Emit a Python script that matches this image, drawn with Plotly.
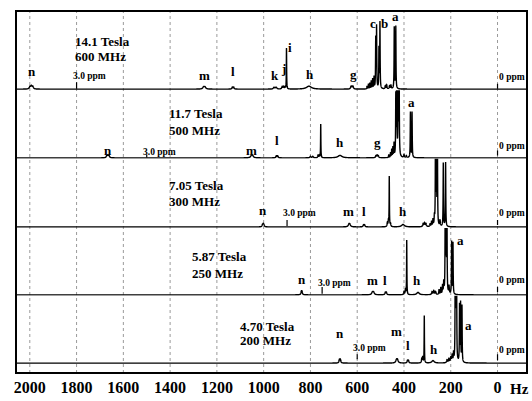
import numpy as np
import plotly.graph_objects as go

# ---------------- data ----------------
MHZ = [600, 500, 300, 250, 200]
TESLA_TEXT = ["14.1 Tesla", "11.7 Tesla", "7.05 Tesla", "5.87 Tesla", "4.70 Tesla"]
MHZ_TEXT = ["600 MHz", "500 MHz", "300 MHz", "250 MHz", "200 MHz"]

# peak tables (ppm, height, line width in Hz)
PK600_PPM = [3.332, 3.322, 3.312, 2.095, 2.085, 1.890, 1.880, 1.595, 1.585, 1.575, 1.535, 1.525, 1.515, 1.504,
             1.344, 1.045, 1.037, 1.029, 0.930, 0.920, 0.910, 0.900, 0.890, 0.880, 0.868, 0.862, 0.845, 0.838,
             0.800, 0.790, 0.770, 0.760, 0.736, 0.725]
PK600_H = [2.5, 3, 2.5, 2, 2, 2, 2, 1.5, 1.5, 1.5, 2.5, 2.5, 2, 42,
           3, 2.5, 2.5, 2.5, 3, 5, 6, 8, 10, 12, 50, 62, 40, 67,
           3, 4, 3, 4, 63, 63]
PK600_W = [6, 6, 6, 8, 8, 4, 4, 5, 5, 5, 4, 4, 3, 1.5,
           25, 4, 4, 4, 2, 2, 2, 2, 2, 2, 1.8, 1.8, 1.8, 1.8,
           3, 3, 3, 3, 1.8, 1.8]

PK500_PPM = [3.342, 3.332, 3.322, 2.105, 2.095, 1.892, 1.880, 1.600, 1.580, 1.535, 1.525, 1.512,
             1.347, 1.040, 1.030, 1.020, 0.930, 0.915, 0.905, 0.895, 0.885, 0.870, 0.862, 0.850, 0.842,
             0.800, 0.780, 0.745, 0.731]
PK500_H = [2, 2.5, 2, 2, 2, 2, 2, 1.5, 1.5, 2.5, 2.5, 34,
           2.5, 2, 2.5, 2, 3, 5, 8, 10, 14, 60, 120, 80, 130,
           3, 2, 46, 46]
PK500_W = [5, 5, 5, 8, 8, 4, 4, 5, 5, 3, 3, 1.5,
           20, 4, 4, 4, 2, 2, 2, 2, 2, 1.8, 1.8, 1.8, 1.8,
           3, 3, 1.8, 1.8]

PK300_PPM = [3.350, 3.340, 3.330, 2.117, 2.105, 1.910, 1.895, 1.570, 1.555, 1.543, 1.525,
             1.347, 1.060, 1.040, 1.020, 0.960, 0.940, 0.920, 0.900, 0.885, 0.872, 0.857,
             0.820, 0.773, 0.740]
PK300_H = [2, 2.5, 2, 2.5, 2, 2, 2, 4, 6, 51, 3,
           2.5, 3, 4, 3, 3, 5, 7, 9, 80, 110, 95,
           6, 65, 65]
PK300_W = [4, 4, 4, 7, 7, 4, 4, 3, 3, 1.5, 3,
           14, 4, 4, 4, 2.5, 2.5, 2.5, 2.5, 1.8, 1.8, 1.8,
           3, 1.8, 1.8]

PK250_PPM = [3.355, 3.345, 2.140, 2.120, 1.920, 1.900, 1.600, 1.575, 1.553,
             1.360, 1.120, 1.090, 1.060, 1.000, 0.970, 0.940, 0.920, 0.895, 0.880, 0.865,
             0.830, 0.785, 0.762]
PK250_H = [3, 3, 2.5, 2.5, 2.5, 2.5, 3, 5, 55,
           2.5, 3, 4, 3, 5, 7, 9, 12, 90, 110, 80,
           8, 53, 52]
PK250_W = [4, 4, 7, 7, 4, 4, 3, 3, 1.5,
           12, 4, 4, 4, 2.5, 2.5, 2.5, 2.5, 1.8, 1.8, 1.8,
           3, 1.8, 1.8]

PK200_PPM = [3.380, 3.360, 2.160, 2.140, 1.925, 1.905, 1.620, 1.600, 1.566,
             1.380, 1.080, 1.040, 1.000, 0.970, 0.940, 0.905, 0.890, 0.875,
             0.812, 0.790, 0.760]
PK200_H = [3.5, 3.5, 3, 3, 2.5, 2.5, 4, 6, 48,
           2.5, 3, 4, 5, 7, 9, 90, 110, 85,
           58, 59, 57]
PK200_W = [4, 4, 7, 7, 4, 4, 3, 3, 1.5,
           12, 4, 4, 4, 4, 2.5, 1.8, 1.8, 1.8,
           1.8, 1.8, 1.8]

PEAK_TABLES = [(PK600_PPM, PK600_H, PK600_W), (PK500_PPM, PK500_H, PK500_W),
               (PK300_PPM, PK300_H, PK300_W), (PK250_PPM, PK250_H, PK250_W),
               (PK200_PPM, PK200_H, PK200_W)]

# peak letter labels: letter, position (Hz), height above baseline
LBL600 = [("n", 1991, 18), ("m", 1255, 14), ("l", 1131, 18), ("k", 952, 14), ("j", 917, 21), ("i", 888, 42),
          ("h", 802, 15), ("g", 618, 15), ("c", 532, 66), ("b", 485, 66), ("a", 438, 73)]
LBL500 = [("n", 1666, 7.5), ("m", 1050, 7.5), ("l", 943, 18), ("h", 674, 16), ("g", 515, 16), ("a", 366, 56)]
LBL300 = [("n", 1003, 17), ("m", 639, 16), ("l", 571, 16), ("h", 404, 16)]
LBL250 = [("n", 837, 16), ("m", 534, 15), ("l", 481, 15), ("h", 346, 15), ("a", 160, 55)]
LBL200 = [("n", 674, 30), ("m", 431, 32), ("l", 382, 18), ("h", 271, 14), ("a", 126, 38)]
LABELS = [LBL600, LBL500, LBL300, LBL250, LBL200]

# field / frequency caption: left position (Hz), heights of the two lines
CAPTION_X = [1816, 1414, 1414, 1315, 1110]
CAPTION_H1 = [48, 44.5, 42, 39, 37]
CAPTION_H2 = [33, 27.5, 26, 22, 23]

# reference marks: "3.0 ppm" and "0 ppm"
MARK_PPM = [3.0, 0.0]
MARK3_TEXT_H = [13, 6, 14, 12, 15]
MARK3_TICK = [(0.5, 7), (0.5, 3.5), (1, 7), (1, 8), (4, 9)]
MARK0_TEXT_H = [12, 12.5, 14, 15, 13]
MARK0_TICK = [(0.5, 5.5), (2.5, 7.5), (2, 7), (3, 8), (3, 9)]

X_TICKS = [2000, 1800, 1600, 1400, 1200, 1000, 800, 600, 400, 200, 0]
X_RANGE = [2059, -126]

# ---------------- layout geometry (pixels) ----------------
W, H = 532, 401
ML, MR, MT, MB = 16, 5, 11, 24
PLOT_TOP, PLOT_BOT = MT, H - MB
PANEL_TOPS = [11, 91, 160.5, 230.3, 299]
PANEL_BOTS = [91, 160.5, 230.3, 299, 377]
PANEL_BASE_OFF = [1, 1, 1, 1, 10]   # baseline height above panel bottom (px)
ph = PLOT_BOT - PLOT_TOP

SERIF = "Liberation Serif"

f = np.arange(-130, 2062, 0.25)

fig = go.Figure()
layout_axes = {}
annotations = []
shapes = []

for k in range(5):
    ppm, hh, ww = PEAK_TABLES[k]
    mhz = MHZ[k]
    y = np.zeros_like(f)
    for p0, h0, w0 in zip(ppm, hh, ww):
        y += h0 / (1 + ((f - p0 * mhz) / (w0 / 2.0)) ** 2)
    yname = "y" if k == 0 else f"y{k+1}"
    fig.add_trace(go.Scatter(x=f, y=y, mode="lines", xaxis="x", yaxis=yname,
                             line=dict(color="black", width=1.4, simplify=False),
                             hoverinfo="skip", showlegend=False))
    top, bot = PANEL_TOPS[k], PANEL_BOTS[k]
    d0 = (PLOT_BOT - bot) / ph
    d1 = (PLOT_BOT - top) / ph
    off = PANEL_BASE_OFF[k]
    rng = [-off, (bot - top) - off]
    key = "yaxis" if k == 0 else f"yaxis{k+1}"
    layout_axes[key] = dict(domain=[max(0, d0), min(1, d1)], range=rng, visible=False,
                            fixedrange=True, anchor="x")

    # captions
    annotations.append(dict(x=CAPTION_X[k], y=CAPTION_H1[k], xref="x", yref=yname, text=TESLA_TEXT[k],
                            showarrow=False, xanchor="left", yanchor="middle",
                            font=dict(family=SERIF, size=13, color="black", weight="bold")))
    annotations.append(dict(x=CAPTION_X[k], y=CAPTION_H2[k], xref="x", yref=yname, text=MHZ_TEXT[k],
                            showarrow=False, xanchor="left", yanchor="middle",
                            font=dict(family=SERIF, size=13, color="black", weight="bold")))
    # peak letters
    for letter, xh, yh in LABELS[k]:
        annotations.append(dict(x=xh, y=yh, xref="x", yref=yname, text=letter, showarrow=False,
                                xanchor="center", yanchor="middle",
                                font=dict(family=SERIF, size=13, color="black", weight="bold")))
    # reference marks
    x3 = MARK_PPM[0] * mhz
    x0 = MARK_PPM[1] * mhz
    annotations.append(dict(x=x3 + 6 / 0.2338, y=MARK3_TEXT_H[k], xref="x", yref=yname, text="3.0 ppm",
                            showarrow=False, xanchor="left", yanchor="middle",
                            font=dict(family=SERIF, size=9.5, color="black", weight="bold")))
    annotations.append(dict(x=x0 + 1 / 0.2338, y=MARK0_TEXT_H[k], xref="x", yref=yname, text="0 ppm",
                            showarrow=False, xanchor="left", yanchor="middle",
                            font=dict(family=SERIF, size=9.5, color="black", weight="bold")))
    shapes.append(dict(type="line", xref="x", yref=yname, x0=x3, x1=x3, y0=MARK3_TICK[k][0], y1=MARK3_TICK[k][1],
                       line=dict(color="black", width=1.2)))
    shapes.append(dict(type="line", xref="x", yref=yname, x0=x0, x1=x0, y0=MARK0_TICK[k][0], y1=MARK0_TICK[k][1],
                       line=dict(color="black", width=1.2)))

# dotted vertical grid lines
for xv in X_TICKS:
    shapes.append(dict(type="line", xref="x", yref="paper", x0=xv, x1=xv, y0=0, y1=1, layer="below",
                       line=dict(color="#9a9a9a", width=1, dash="dot")))
# frame
shapes.append(dict(type="rect", xref="paper", yref="paper", x0=0, x1=1, y0=0, y1=1,
                   line=dict(color="black", width=2)))

# axis unit label (kept fully inside the page)
annotations.append(dict(x=(531 - ML) / (W - ML - MR), y=(PLOT_BOT - 393) / ph, xref="paper", yref="paper",
                        text="Hz", showarrow=False, xanchor="right", yanchor="middle",
                        font=dict(family=SERIF, size=15, color="black", weight="bold")))

fig.update_layout(
    width=W, height=H,
    margin=dict(l=ML, r=MR, t=MT, b=MB, pad=0),
    paper_bgcolor="white", plot_bgcolor="white",
    showlegend=False,
    xaxis=dict(range=X_RANGE, tickmode="array", tickvals=X_TICKS, ticktext=[str(v) for v in X_TICKS],
               showgrid=False, zeroline=False, showline=False, ticks="", anchor="y5",
               ticklabelstandoff=3,
               tickfont=dict(family=SERIF, size=16, color="black", weight="bold"), fixedrange=True),
    annotations=annotations,
    shapes=shapes,
    **layout_axes,
)

fig.write_html("out.html")
